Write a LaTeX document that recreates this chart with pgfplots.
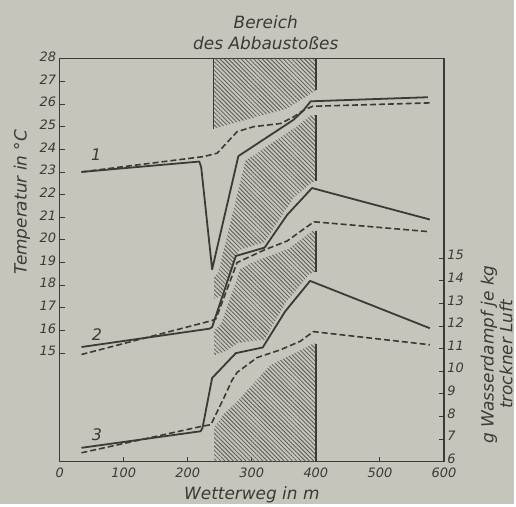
\documentclass[border=0pt]{standalone}
\usepackage{fontspec}
\setmainfont{DejaVu Sans}
\usepackage{pgfplots}
\pgfplotsset{compat=1.18}
\usetikzlibrary{patterns.meta}
\definecolor{bg}{HTML}{C6C5BB}
\definecolor{ink}{HTML}{3A3A36}
\definecolor{hatch}{HTML}{595953}
\newcommand{\tickfont}{\fontsize{13}{13}\selectfont\itshape}
\newcommand{\labfont}{\fontsize{17}{19}\selectfont\itshape}
\pgfplotsset{
  solidc/.style={ink, line width=1.8pt, line join=round},
  dashc/.style={ink, line width=1.6pt, dash pattern=on 6pt off 3pt},
  hatchc/.style={draw=none, pattern={Lines[angle=-45,distance=3pt,line width=0.8pt]}, pattern color=hatch},
  vline/.style={ink, line width=1.5pt},
}
\begin{document}
\begin{tikzpicture}[x=1pt,y=1pt]
\fill[bg] (0,0) rectangle (516,506);
\begin{axis}[at={(60pt,42pt)}, anchor=south west, scale only axis,
  width=386pt, height=405pt,
  xmin=0, xmax=600, ymin=10.2, ymax=28,
  tick pos=left, tick align=inside, major tick length=5pt,
  xtick={0,100,...,600}, ytick={15,...,28},
  axis line style={ink, line width=1.3pt},
  every tick/.style={ink, line width=0.9pt},
  ticklabel style={font=\tickfont, text=ink},
  xticklabel style={yshift=-3pt},
  yticklabel style={yshift=2pt},
  /pgf/number format/assume math mode=true,
  clip=false]
% hatched areas
\addplot[hatchc] coordinates {(240,28) (400,28) (400,26.6) (355,25.8) (241,24.92)} -- cycle;
\addplot[hatchc] coordinates {(241,17.4) (241,18.35) (248,18.6) (290,23.5) (370,25.0) (392,25.5) (400,25.5) (400,22.6) (394,22.55) (365,21.85) (320,19.9) (280,19.55) (251,17.5)} -- cycle;
\addplot[hatchc] coordinates {(241,14.9) (241,16.0) (252,16.3) (282,18.7) (300,19.0) (357,19.6) (395,20.4) (400,20.4) (400,18.6) (390,18.5) (352,17.2) (320,15.6) (278,15.45) (260,15.1)} -- cycle;
\addplot[hatchc] coordinates {(241,10.2) (241,11.7) (256,12.3) (277,12.86) (329,14.47) (381,15.2) (396,15.42) (400,15.42) (400,10.2)} -- cycle;
% boundary lines
\addplot[vline] coordinates {(240,28) (240,24.9)};
\addplot[vline] coordinates {(400,28) (400,26.6)};
\addplot[vline] coordinates {(400,25.5) (400,22.6)};
\addplot[vline] coordinates {(400,20.4) (400,18.6)};
\addplot[ink, line width=2.2pt] coordinates {(400,15.42) (400,10.2)};
% curve 1
\addplot[solidc] coordinates {(34,23.0) (218,23.46) (221,23.2) (238,18.7) (279,23.7) (365,25.3) (380,25.7) (392,26.12) (575,26.3)};
\addplot[dashc] coordinates {(34,23.0) (225,23.68) (246,23.83) (277,24.78) (303,25.0) (345,25.14) (365,25.43) (381,25.73) (395,25.9) (578,26.05)};
% curve 2
\addplot[solidc] coordinates {(34,15.27) (234,16.08) (238,16.15) (275,19.29) (320,19.66) (355,21.1) (394,22.29) (578,20.9)};
\addplot[dashc] coordinates {(34,14.94) (238,16.44) (244,16.52) (269,18.4) (277,19.0) (319,19.55) (355,19.95) (397,20.8) (578,20.36)};
% curve labels
\node[font=\fontsize{16}{16}\selectfont\itshape, text=ink] at (axis cs:57,23.75) {1};
\node[font=\fontsize{16}{16}\selectfont\itshape, text=ink] at (axis cs:58,15.8) {2};
\node[font=\fontsize{16}{16}\selectfont\itshape, text=ink] at (axis cs:58,11.4) {3};
\end{axis}
\begin{axis}[at={(60pt,42pt)}, anchor=south west, scale only axis,
  width=386pt, height=405pt,
  xmin=0, xmax=600, ymin=6, ymax=23.8,
  axis x line=none, axis y line*=right,
  tick align=inside, major tick length=5pt,
  ytick={6,...,15},
  axis line style={ink, line width=1.3pt},
  every tick/.style={ink, line width=0.9pt},
  ticklabel style={font=\tickfont, text=ink},
  yticklabel style={yshift=3pt},
  /pgf/number format/assume math mode=true]
% curve 3 (g water vapour per kg dry air)
\addplot[solidc] coordinates {(34,6.62) (220,7.35) (223,7.5) (238,9.7) (275,10.8) (317,11.05) (352,12.64) (391,13.99) (578,11.9)};
\addplot[dashc] coordinates {(34,6.40) (222,7.57) (236,7.64) (256,8.8) (269,9.6) (277,9.95) (308,10.6) (345,10.95) (376,11.33) (396,11.75) (578,11.17)};
\end{axis}
\node[font=\labfont, text=ink] at (267,484) {Bereich};
\node[font=\labfont, text=ink] at (267,463) {des Abbaustoßes};
\node[font=\labfont, text=ink] at (253,9) {Wetterweg in m};
\node[font=\labfont, text=ink, rotate=90] at (22,303) {Temperatur in °C};
\node[font=\labfont, text=ink, rotate=90, align=center] at (499,150) {g Wasserdampf je kg\\[0pt] trockner Luft};
\end{tikzpicture}
\end{document}
